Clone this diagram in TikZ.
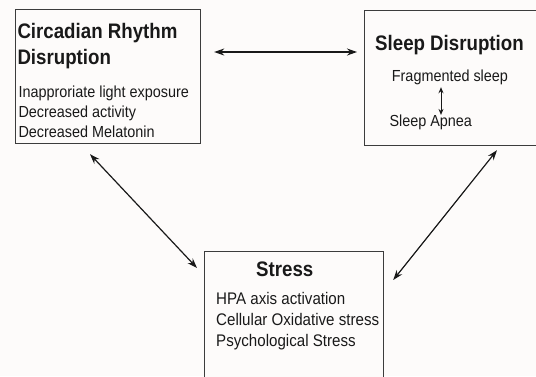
\documentclass[tikz,border=0pt]{standalone}
\usepackage{fontspec}
\setmainfont{Liberation Sans}
\newfontfamily\condfont[FakeStretch=0.9]{Liberation Sans}
\newfontfamily\titlecond[FakeStretch=0.89]{Liberation Sans}
\usetikzlibrary{arrows.meta}
\definecolor{bg}{RGB}{253,251,250}
\definecolor{ink}{RGB}{25,25,25}
\definecolor{frame}{RGB}{60,60,60}
\tikzset{
  box/.style={draw=frame, line width=1.2pt, fill=bg, inner sep=0pt, anchor=north west},
  ttl/.style={anchor=base west, inner sep=0pt, text=ink, font=\titlecond\bfseries\fontsize{21}{25}\selectfont},
  txt/.style={anchor=base west, inner sep=0pt, text=ink, font=\condfont\fontsize{16}{20}\selectfont},
  stxt/.style={anchor=base west, inner sep=0pt, text=ink, font=\condfont\fontsize{16.8}{20}\selectfont},
  link/.style={draw=ink, line width=1.2pt, {Stealth[length=10pt,width=7pt]}-{Stealth[length=10pt,width=7pt]}},
  smalllink/.style={draw=ink, line width=0.9pt, {Stealth[length=6pt,width=5pt]}-{Stealth[length=6pt,width=5pt]}},
}
\begin{document}
\begin{tikzpicture}[x=1pt,y=-1pt]
\fill[bg] (0,0) rectangle (536,376);
\useasboundingbox (0,0) rectangle (536,376);
\begin{scope}
\clip (0,0) rectangle (536,376);
% boxes
\node[box, minimum width=185pt, minimum height=134pt] (circ) at (15,9) {};
\node[box, minimum width=185pt, minimum height=135pt] (sleep) at (364,10) {};
\node[box, minimum width=179pt, minimum height=140pt] (stress) at (204,251) {};
% circadian texts
\node[ttl] (c1) at (17.3,38.3) {Circadian Rhythm};
\node[ttl] (c2) at (17.3,64.3) {Disruption};
\node[txt] (c3) at (18.3,97.3) {Inapproriate light exposure};
\node[txt] (c4) at (18.3,117.3) {Decreased activity};
\node[txt] (c5) at (18.3,137.3) {Decreased Melatonin};
% sleep texts
\node[ttl] (s1) at (375,50) {Sleep Disruption};
\node[txt] (s2) at (391.7,81.7) {Fragmented sleep};
\node[txt] (s3) at (389.3,126.7) {Sleep Apnea};
% stress texts
\node[ttl] (t1) at (256,276) {Stress};
\node[stxt] (t2) at (216,304) {HPA axis activation};
\node[stxt] (t3) at (216,325.7) {Cellular Oxidative stress};
\node[stxt] (t4) at (216,346.7) {Psychological Stress};
% connectors
\draw[link] ([shift={(13,43)}]circ.north east) -- ([shift={(-7,42)}]sleep.north west);
\draw[link] ([shift={(75,10)}]circ.south west) -- ([shift={(-7,17)}]stress.north west);
\draw[link] ([shift={(133,4)}]sleep.south west) -- ([shift={(9,29)}]stress.north east);
\draw[smalllink] (s2.south -| 441,0) ++(0,2) coordinate (sa) -- (s3.north -| 441,0) coordinate (sb);
\end{scope}
\end{tikzpicture}
\end{document}
